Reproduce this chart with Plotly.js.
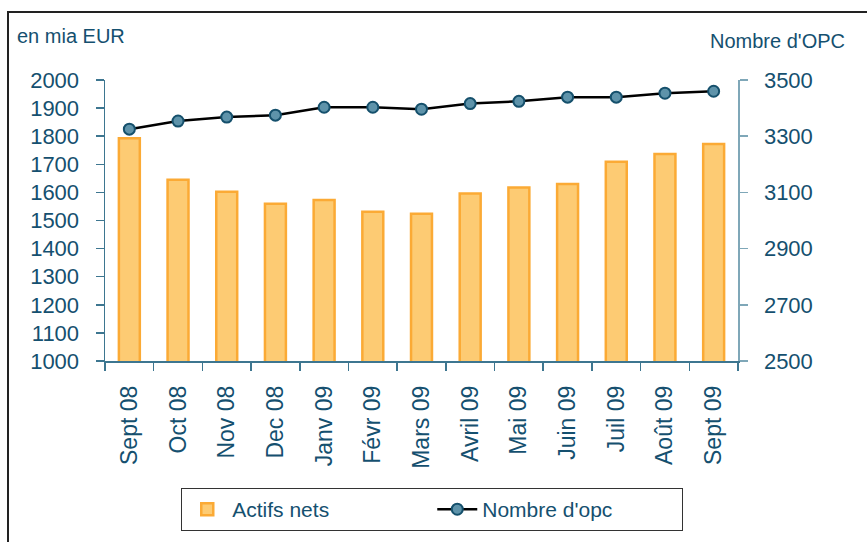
<!DOCTYPE html>
<html>
<head>
<meta charset="utf-8">
<script src="https://cdn.plot.ly/plotly-3.0.1.min.js"></script>
<style>
  html, body { margin:0; padding:0; background:#fff; overflow:hidden; }
  #frame { position:absolute; left:7px; top:11px; width:1000px; height:1000px; border-left:2px solid #222; border-top:2px solid #222; }
  #chart { position:absolute; left:0; top:0; width:867px; height:542px; }
</style>
</head>
<body>
<div id="frame"></div>
<div id="chart"></div>
<script>
const categories = ["Sept 08","Oct 08","Nov 08","Dec 08","Janv 09","Févr 09","Mars 09","Avril 09","Mai 09","Juin 09","Juil 09","Août 09","Sept 09"];
const actifsNets = [1793, 1645, 1602, 1560, 1573, 1531, 1524, 1596, 1617, 1630, 1709, 1737, 1772];
const nombreOpc = [3325, 3354, 3368, 3375, 3403, 3403, 3396, 3416, 3424, 3439, 3439, 3453, 3460];
const leftTicks = [1000,1100,1200,1300,1400,1500,1600,1700,1800,1900,2000];
const rightTicks = [2500,2700,2900,3100,3300,3500];

const txt = '#15506F';
const font = 'Liberation Sans, Arial, sans-serif';

const traces = [
  {
    type:'bar', name:'Actifs nets', x:categories, y:actifsNets, yaxis:'y',
    width:0.43,
    marker:{color:'#FDCB73', line:{color:'#FBAA35', width:2.5}},
    hoverinfo:'skip'
  },
  {
    type:'scatter', mode:'lines+markers', name:"Nombre d'opc", x:categories, y:nombreOpc, yaxis:'y2',
    line:{color:'#000', width:2.5},
    marker:{size:11, color:'#5E93AA', line:{color:'#15506C', width:2}},
    hoverinfo:'skip'
  }
];

const layout = {
  width:867, height:542,
  margin:{l:105, r:129, t:80, b:180},
  paper_bgcolor:'rgba(0,0,0,0)', plot_bgcolor:'rgba(0,0,0,0)',
  font:{family:font, color:txt, size:22},
  showlegend:true,
  legend:{
    orientation:'h', x:0.517, xanchor:'center', y:-0.447, yanchor:'top',
    bgcolor:'#fff', bordercolor:'#333', borderwidth:1,
    font:{family:font, size:21, color:txt},
    entrywidth:195, itemwidth:40, traceorder:'normal'
  },
  xaxis:{
    type:'category', tickson:'boundaries', ticks:'outside', ticklen:8, tickwidth:1.5, tickcolor:'#3D7690',
    showline:true, linecolor:'#3D7690', linewidth:1.5, showgrid:false,
    tickangle:-90, tickfont:{size:23, color:txt, family:font}, ticklabelstandoff:14,
    range:[-0.5, categories.length-0.5]
  },
  yaxis:{
    range:[1000,2000], tickvals:leftTicks, ticktext:leftTicks.map(String),
    ticks:'outside', ticklen:8, tickwidth:1.5, tickcolor:'#3D7690',
    showline:true, linecolor:'#3D7690', linewidth:1.5, showgrid:false, zeroline:false,
    tickfont:{size:22, color:txt, family:font}, ticklabelstandoff:12
  },
  yaxis2:{
    overlaying:'y', side:'right',
    range:[2500,3500], tickvals:rightTicks, ticktext:rightTicks.map(String),
    ticks:'outside', ticklen:8, tickwidth:1.5, tickcolor:'#7FA7B8',
    showline:true, linecolor:'#7FA7B8', linewidth:1.5, showgrid:false, zeroline:false,
    tickfont:{size:22, color:txt, family:font}, ticklabelstandoff:12
  },
  annotations:[
    {text:'en mia EUR', xref:'paper', yref:'paper', x:-0.142, y:1.156, xanchor:'left', yanchor:'middle', showarrow:false, font:{size:20, color:txt, family:font}},
    {text:"Nombre d'OPC", xref:'paper', yref:'paper', x:1.0624, y:1.138, xanchor:'center', yanchor:'middle', showarrow:false, font:{size:20, color:txt, family:font}}
  ]
};

Plotly.newPlot('chart', traces, layout, {displayModeBar:false, staticPlot:true});
</script>
</body>
</html>
